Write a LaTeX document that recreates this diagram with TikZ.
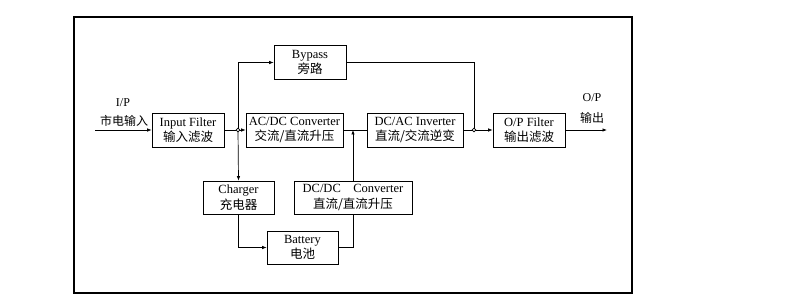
\documentclass[tikz,border=0pt]{standalone}
\usepackage{fontspec}
\setmainfont{Liberation Serif}
\newfontfamily\cjk{Noto Sans CJK SC}
\usetikzlibrary{arrows.meta}

\tikzset{
    block/.style={draw, line width=0.7pt, minimum height=34pt, inner sep=1pt,
        align=center, font=\fontsize{12.5}{15.5}\selectfont},
    wire/.style={line width=0.7pt},
    feed/.style={wire, -{Latex[length=4.5pt,width=3.5pt]}},
    tap/.style={circle, draw, fill=white, line width=0.6pt, inner sep=1.3pt},
    lbl/.style={font=\fontsize{12}{14}\selectfont}
}

\begin{document}
\begin{tikzpicture}[x=1pt,y=-1pt]
    \useasboundingbox (0,0) rectangle (795,307);
    \draw[line width=1.6pt] (74,17) rectangle (632,293);

    \coordinate (IN) at (95,130);
    \coordinate (OUT) at (607,130);

    \node[block, minimum width=72pt] (F1) at (188,130) {Input Filter\\{\cjk 输入滤波}};
    \node[block, minimum width=97pt] (R) at (294.5,130) {AC/DC Converter\\{\cjk 交流/直流升压}};
    \node[block, minimum width=72pt] (B) at (310,62.5) {Bypass\\{\cjk 旁路}};
    \node[block, minimum width=96pt] (V) at (415,130) {DC/AC Inverter\\{\cjk 直流/交流逆变}};
    \node[block, minimum width=72pt] (F2) at (529,130) {O/P Filter\\{\cjk 输出滤波}};
    \node[block, minimum width=71pt, minimum height=33pt] (C) at (238.5,197.5) {Charger\\{\cjk 充电器}};
    \node[block, minimum width=118pt, minimum height=33pt] (D) at (353,197.5) {DC/DC\quad Converter\\{\cjk 直流/直流升压}};
    \node[block, minimum width=71pt, minimum height=33pt] (T) at (302.5,247.5) {Battery\\{\cjk 电池}};

    \node[lbl] (IP) at (123,103) {I/P};
    \node[lbl] (IPc) at (124,121) {\cjk 市电输入};
    \node[lbl] (OP) at (592,98) {O/P};
    \node[lbl] (OPc) at (592,118) {\cjk 输出};

    \draw[feed] (IN) -- (F1.west);
    \draw[wire] (F1.east) -- (238,130);
    \draw[feed] (238,130) -- (R.west);
    \draw[feed] (238,130) |- (B.west);
    \draw[feed] (238,130) -- (C.north);
    \draw[wire] (R.east) -- (V.west);
    \draw[feed] (D.north) -- (D.north |- R.east);
    \draw[wire] (V.east) -- (474,130);
    \draw[feed] (474,130) -- (F2.west);
    \draw[wire] (B.east) -| (474,130);
    \draw[feed] (F2.east) -- (OUT);
    \draw[feed] (C.south) |- (T.west);
    \draw[wire] (T.east) -| (D.south);

    \node[tap] (J1) at (238,130) {};
    \node[tap] (J2) at (474,130) {};
\end{tikzpicture}
\end{document}
